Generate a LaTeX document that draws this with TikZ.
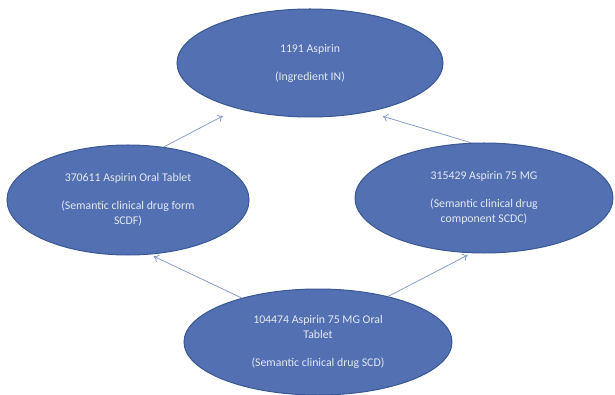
\documentclass[tikz,border=0pt]{standalone}
\usepackage{fontspec}
\setmainfont{Carlito}
\usetikzlibrary{arrows.meta,shapes.geometric}

\definecolor{ovalfill}{RGB}{82,112,178}
\definecolor{ovaledge}{RGB}{58,88,146}
\definecolor{linkblue}{RGB}{132,152,204}
\definecolor{ovaltext}{RGB}{228,232,242}

\begin{document}
\begin{tikzpicture}[x=1pt,y=-1pt,
  concept/.style={ellipse, draw=ovaledge, line width=1pt, fill=ovalfill,
    text=ovaltext, inner sep=0pt, align=center,
    font=\fontsize{11.8}{15}\selectfont},
  link/.style={-{To[length=5pt,width=8pt]}, linkblue, line width=0.75pt}]
\useasboundingbox (0,0) rectangle (615,395);

% Ingredient (top)
\node[concept, minimum width=266pt, minimum height=108pt] (in) at (310,63)
  {1191 Aspirin\\[13pt](Ingredient IN)};

% Drug form (left)
\node[concept, minimum width=242pt, minimum height=110pt] (scdf) at (128,200)
  {370611 Aspirin Oral Tablet\\[13pt](Semantic clinical drug form\\SCDF)};

% Drug component (right)
\node[concept, minimum width=258pt, minimum height=110pt] (scdc) at (484,198)
  {315429 Aspirin 75 MG\\[13pt](Semantic clinical drug\\component SCDC)};

% Clinical drug (bottom)
\node[concept, minimum width=268pt, minimum height=106pt] (scd) at (318,342)
  {104474 Aspirin 75 MG Oral\\Tablet\\[13pt](Semantic clinical drug SCD)};

% Links
\draw[link, shorten >=16pt] (scdf.56) -- (in.212);
\draw[link, shorten >=15pt] (scdc.103) -- (in.-40);
\draw[link, shorten >=4pt] (scd.150) -- (scdf.-68);
\draw[link, shorten >=4pt] (scd.33) -- (scdc.-103);
\end{tikzpicture}
\end{document}
